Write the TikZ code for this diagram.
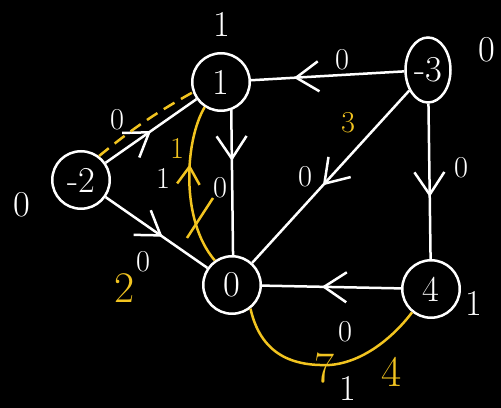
\documentclass[tikz,border=0pt]{standalone}
\usepackage{tikz}
\usetikzlibrary{arrows.meta,decorations.markings,shapes.geometric}
\definecolor{hlyellow}{RGB}{242,196,32}
\tikzset{
  vtx/.style={draw=white, circle, line width=0.5mm, minimum size=11.5mm, inner sep=0pt, text=white, font=\huge},
  pot/.style={text=white, font=\huge},
  wt/.style={text=white, font=\LARGE},
  ywt/.style={text=hlyellow, font=\LARGE},
  bigywt/.style={ywt, font=\Huge},
  edge/.style={draw=white, line width=0.5mm},
  hl/.style={draw=hlyellow, line width=0.5mm},
  arr/.style={postaction={decorate}, decoration={markings, mark=at position #1 with {\arrow{Straight Barb[length=4.5mm,width=6mm]}}}},
  rarr/.style={postaction={decorate}, decoration={markings, mark=at position #1 with {\arrowreversed{Straight Barb[length=3.5mm,width=4.5mm]}}}},
}
\begin{document}
\begin{tikzpicture}[x=0.2mm, y=-0.2mm]
\useasboundingbox (0,0) rectangle (501,408);
\fill[black] (0,0) rectangle (501,408);
% vertices with supplies
\node[vtx] (n1) at (221,82) {1};
\node[vtx, ellipse, minimum width=9mm, minimum height=13mm] (n3) at (428,70) {-3};
\node[vtx] (n2) at (81,180) {-2};
\node[vtx] (n0) at (232,285) {0};
\node[vtx] (n4) at (431,289) {4};
% potentials
\node[pot] (p1) at (222,24) {1};
\node[pot] (p3) at (487,50) {0};
\node[pot] (p2) at (22,205) {0};
\node[pot] (p4) at (474,303) {1};
\node[pot] (p0) at (348,388) {1};
% edges
\draw[edge, arr=0.72] (n3) -- (n1);
\draw[edge, arr=0.5] (n2) -- (n1);
\draw[edge, arr=0.35] (n1.290) -- (n0.88);
\draw[edge, arr=0.56] (n2) -- (n0);
\draw[edge, arr=0.55] (n3) -- (n0);
\draw[edge, arr=0.6] (n3) -- (n4);
\draw[edge, arr=0.57] (n4) -- (n0);
% edge labels
\node[wt] (w31) at (342,60) {0};
\node[wt] (w21) at (117,120) {0};
\node[wt] (w10) at (220,188) {0};
\node[wt] (w20) at (143,262) {0};
\node[wt] (w30) at (305,177) {0};
\node[wt] (w34) at (461,168) {0};
\node[wt] (w40) at (345,332) {0};
\node[wt] (r10) at (163,178) {1};
% highlighted path
\draw[hl, dash pattern=on 2.5mm off 1.5mm] (n2.53) to[bend left=5] (n1.200);
\draw[hl, rarr=0.37] (n1.237) .. controls (185,140) and (180,220) .. (n0.125);
\draw[hl] (213,198) -- (187,238);
\draw[hl] (n0.308) .. controls (262,360) and (300,366) .. (330,365) .. controls (365,362) and (395,335) .. (n4.231);
\node[bigywt] (y21) at (125,288) {2};
\node[ywt] (y30) at (348,123) {3};
\node[ywt] (y10) at (177,148) {1};
\node[bigywt] (y7) at (325,368) {7};
\node[bigywt] (y4) at (392,372) {4};
\end{tikzpicture}
\end{document}
